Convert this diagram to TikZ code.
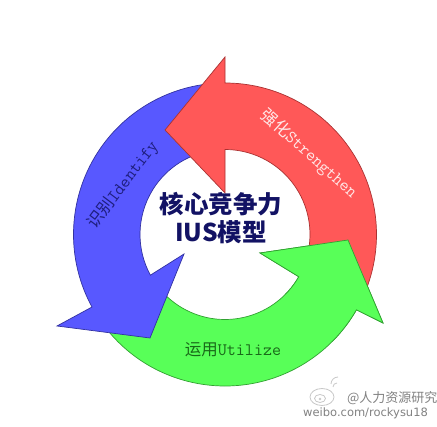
\documentclass[tikz,border=0pt]{standalone}
\usepackage{fontspec}
\newfontfamily\cjk{Noto Sans CJK SC}
\newfontfamily\dejavu{DejaVu Sans}
\definecolor{redfill}{RGB}{255,88,88}
\definecolor{redline}{RGB}{170,50,50}
\definecolor{bluefill}{RGB}{88,88,255}
\definecolor{blueline}{RGB}{50,50,160}
\definecolor{greenfill}{RGB}{88,255,88}
\definecolor{greenline}{RGB}{50,160,50}
\definecolor{navy}{RGB}{18,18,100}
\definecolor{bluetext}{RGB}{30,30,125}
\definecolor{redtext}{RGB}{255,232,232}
\definecolor{greentext}{RGB}{25,105,25}
\definecolor{wmgray}{RGB}{130,130,130}
\definecolor{logogray}{RGB}{200,200,200}
\tikzset{
  arrowshape/.style={line width=0.7pt, line join=miter},
  redarrow/.style={arrowshape, fill=redfill, draw=redline},
  bluearrow/.style={arrowshape, fill=bluefill, draw=blueline},
  greenarrow/.style={arrowshape, fill=greenfill, draw=greenline},
  arclabel/.style={inner sep=0pt, font=\fontsize{16.5}{19}\selectfont},
  wmtext/.style={inner sep=0pt, anchor=west, text=wmgray}
}
\newcommand{\greenpath}{(215:151.5) arc[start angle=215,end angle=330.2,radius=151.5] -- (158,-88.5) -- (123,-5.5) -- (35,-18.5) -- (330.2:85) arc[start angle=330.2,end angle=215,radius=85] -- cycle}
\begin{document}
\begin{tikzpicture}[x=1pt,y=1pt]
\useasboundingbox (0,0) rectangle (437,427);
\fill[white] (0,0) rectangle (437,427);
\begin{scope}[shift={(225,192.5)}]
  % green arrow (Utilize)
  \path[greenarrow] \greenpath;
  % blue arrow (Identify)
  \path[bluearrow] (95:151.5) arc[start angle=95,end angle=208.6,radius=151.5] -- (-168,-91.5) -- (-75,-103.5) -- (-41,-19.5) -- (208.6:85) arc[start angle=208.6,end angle=95,radius=85] -- cycle;
  % red arrow (Strengthen)
  \path[redarrow] (-25:151.5) arc[start angle=-25,end angle=90,radius=151.5] -- (0,177.5) -- (-60,104.5) -- (0,41.5) -- (90:85) arc[start angle=90,end angle=-25,radius=85] -- cycle;
  % green head over red tail
  \begin{scope}
    \clip (0,0) -- (-45:230) arc[start angle=-45,end angle=12,radius=230] -- cycle;
    \path[greenarrow] \greenpath;
  \end{scope}
  % labels
  \node[arclabel, text=bluetext, rotate=53] (lblI) at (-102,49.5) {{\cjk 识别}{\ttfamily\fontsize{17.5}{19}\selectfont Identify}};
  \node[arclabel, text=redtext, rotate=-42] (lblS) at (84,80.5) {{\cjk 强化}{\ttfamily\fontsize{17.5}{19}\selectfont Strengthen}};
  \node[arclabel, text=greentext] (lblU) at (8,-115.5) {{\cjk 运用}{\ttfamily\fontsize{17.5}{19}\selectfont Utilize}};
  \node[inner sep=0pt, align=center, text=navy, font=\cjk\bfseries\fontsize{24.5}{28}\selectfont] (title) at (-4,16.5) {核心竞争力\\IUS模型};
\end{scope}
% watermark logo
\begin{scope}[logogray, line width=0.8pt]
  \draw (322,30) ellipse[x radius=12, y radius=8.5];
  \draw (320,28.5) ellipse[x radius=5.5, y radius=4];
  \fill (320,28) circle[radius=1.3];
  \draw (333,40) arc[start angle=180,end angle=90,radius=4];
  \draw (331,43) arc[start angle=180,end angle=90,radius=7];
\end{scope}
\node[wmtext, font=\cjk\fontsize{13}{15}\selectfont] (wm1) at (347,29) {@人力资源研究};
\node[wmtext, font=\dejavu\fontsize{11.5}{13}\selectfont] (wm2) at (303,14) {weibo.com/rockysu18};
\end{tikzpicture}
\end{document}
